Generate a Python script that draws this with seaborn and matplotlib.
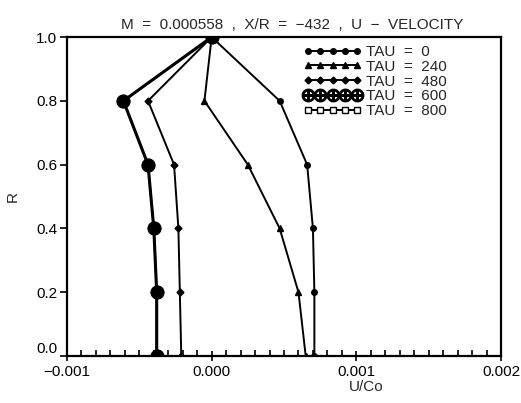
import numpy as np
import pandas as pd
import matplotlib
matplotlib.use("Agg")
import matplotlib.pyplot as plt
import seaborn as sns
from matplotlib.ticker import MultipleLocator

sns.set_style("ticks")
plt.rcParams['font.family'] = ['Liberation Sans', 'DejaVu Sans']

R = [1.0, 0.8, 0.6, 0.4, 0.2, 0.0]
tau_labels = ["TAU  =  0", "TAU  =  240", "TAU  =  480", "TAU  =  600", "TAU  =  800"]
u_tau0 = [0.0, 0.00047, 0.00066, 0.00070, 0.00071, 0.00071]
u_tau240 = [0.0, -0.00005, 0.00025, 0.00047, 0.00060, 0.00065]
u_tau480 = [0.0, -0.00044, -0.00026, -0.00023, -0.00022, -0.00021]
u_tau600 = [0.0, -0.00061, -0.00044, -0.00040, -0.00038, -0.00038]
u_tau800 = [0.0, -0.00061, -0.00044, -0.00040, -0.00038, -0.00038]
x_ticks = [-0.001, 0.000, 0.001, 0.002]
y_ticks = [0.0, 0.2, 0.4, 0.6, 0.8, 1.0]

series = [u_tau0, u_tau240, u_tau480, u_tau600, u_tau800]
styles = [
    dict(marker='o', ms=4, mfc='black', lw=1.4, z=3),
    dict(marker='^', ms=4.5, mfc='black', lw=1.4, z=3),
    dict(marker='D', ms=3.5, mfc='black', lw=1.4, z=3),
    dict(marker='$\\oplus$', ms=9, mfc='black', lw=2.2, z=4),
    dict(marker='s', ms=4, mfc='white', lw=1.4, z=2),
]

fig = plt.figure(figsize=(5.21, 4.03), dpi=100)
ax = fig.add_axes([0.1286, 0.1166, 0.8330, 0.7914])

for u, lab, st in zip(series, tau_labels, styles):
    df = pd.DataFrame({"U": u, "R": R})
    sns.lineplot(data=df, x="U", y="R", sort=False, estimator=None, ax=ax,
                 color='black', linewidth=st['lw'], marker=st['marker'],
                 markersize=st['ms'], markerfacecolor=st['mfc'],
                 markeredgecolor='black', markeredgewidth=1.0, label=lab,
                 zorder=st['z'])

# big filled dots for TAU 600
ax.plot(u_tau600, R, linestyle='none', marker='o', ms=9, color='black', zorder=3.9)

ax.set_xlim(-0.001, 0.002)
ax.set_ylim(0.0, 1.0)
ax.set_xticks(x_ticks)
ax.set_xticklabels([f"{v:.3f}".replace('-', '\u2212') for v in x_ticks])
ax.set_yticks(y_ticks)
ax.set_yticklabels([f"{v:.1f}" for v in y_ticks])
ax.xaxis.set_minor_locator(MultipleLocator(0.0001))
ax.tick_params(axis='x', which='minor', direction='in', length=4, width=1.2, color='black')
ax.tick_params(axis='x', which='major', direction='inout', length=7, width=1.2, color='black')
ax.tick_params(axis='y', which='major', direction='out', length=5, width=1.2, color='black')
ax.tick_params(labelsize=11, colors='black')
ax.tick_params(axis='x', pad=3)
ax.tick_params(axis='y', pad=2)
ax.set_yticks(y_ticks)
ax.get_yticklabels()[0].set_va('bottom')

for s in ax.spines.values():
    s.set_visible(True)
    s.set_color('black')
    s.set_linewidth(1.6)

ax.set_xlabel("U/Co", fontsize=11)
ax.xaxis.set_label_coords(0.69, -0.075)
ax.set_ylabel("R", fontsize=11, labelpad=12)
ax.set_title("M  =  0.000558  ,  X/R  =  \u2212432  ,  U  \u2212  VELOCITY",
             fontsize=11, pad=6, x=0.52)

handles, labels = ax.get_legend_handles_labels()
leg = ax.legend(handles, labels, loc='upper left', bbox_to_anchor=(0.545, 0.975),
                frameon=False, numpoints=5, handlelength=3.8, handletextpad=0.3,
                labelspacing=0.05, fontsize=11, borderpad=0, borderaxespad=0)

fig.savefig("out.png", dpi=100, facecolor='white')
